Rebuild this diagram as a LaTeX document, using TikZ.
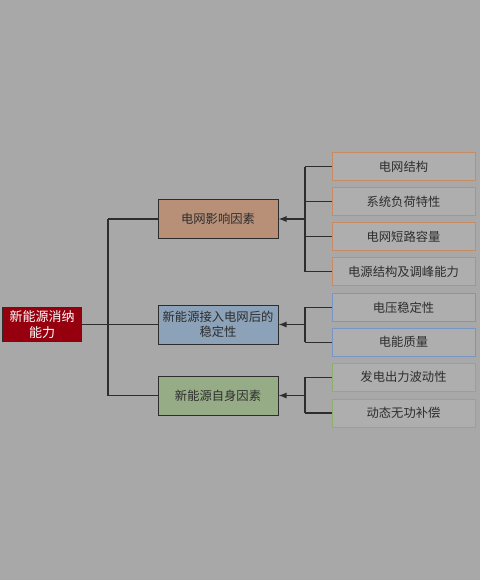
\documentclass[tikz,border=0pt]{standalone}
\usepackage{fontspec}
\setmainfont{Noto Sans CJK SC}
\usepackage{tikz}
\usetikzlibrary{arrows.meta}
\definecolor{bggray}{RGB}{168,168,168}
\definecolor{rootred}{RGB}{150,0,14}
\definecolor{brownbox}{RGB}{184,144,120}
\definecolor{bluebox}{RGB}{140,162,184}
\definecolor{greenbox}{RGB}{150,172,134}
\definecolor{brownline}{RGB}{200,140,100}
\definecolor{blueline}{RGB}{120,150,195}
\definecolor{greenline}{RGB}{140,175,110}
\definecolor{leafgray}{RGB}{174,174,174}
\definecolor{inkgray}{RGB}{45,45,45}
\tikzset{
    root/.style={draw=inkgray,fill=rootred,text=white,minimum width=79pt,minimum height=34pt,inner sep=0pt,align=center,font=\fontsize{13}{16}\selectfont},
    mid/.style={draw=inkgray,line width=1pt,minimum width=120pt,minimum height=39pt,inner sep=0pt,align=center,text=inkgray,font=\fontsize{12.3}{15}\selectfont},
    leaf/.style={draw,line width=0.8pt,fill=leafgray,minimum width=143pt,minimum height=28pt,inner sep=0pt,text=inkgray,font=\fontsize{12.3}{15}\selectfont},
    link/.style={draw=inkgray,line width=1.1pt}
}

\begin{document}
\begin{tikzpicture}[x=1pt,y=-1pt]
    \fill[bggray] (0,0) rectangle (480,580);
    \useasboundingbox (0,0) rectangle (480,580);
    % left side
    \node[root] (root) at (42,324.5) {新能源消纳\\能力};
    \coordinate (trunk) at (108,0);
    % middle boxes
    \node[mid,fill=brownbox] (grid) at (218,219) {电网影响因素};
    \node[mid,fill=bluebox] (stab) at (218,324.5) {新能源接入电网后的\\稳定性};
    \node[mid,fill=greenbox] (self) at (218,395.5) {新能源自身因素};
    % right boxes
    \node[leaf,draw=brownline] (g1) at (403.5,166.5) {电网结构};
    \node[leaf,draw=brownline] (g2) at (403.5,201.5) {系统负荷特性};
    \node[leaf,draw=brownline] (g3) at (403.5,236.7) {电网短路容量};
    \node[leaf,draw=brownline] (g4) at (403.5,271.5) {电源结构及调峰能力};
    \node[leaf,draw=blueline] (s1) at (403.5,307.3) {电压稳定性};
    \node[leaf,draw=blueline] (s2) at (403.5,342.3) {电能质量};
    \node[leaf,draw=greenline] (n1) at (403.5,377.3) {发电出力波动性};
    \node[leaf,draw=greenline] (n2) at (403.5,413) {动态无功补偿};
    \coordinate (sub) at (305,0);

    % connectors
    \draw[link] (root.east) -- (trunk |- root.east);
    \draw[link] (trunk |- grid.west) -- (trunk |- self.west);
    \foreach \m in {grid,stab,self}
        \draw[link] (trunk |- \m.west) -- (\m.west);
    \foreach \m in {grid,stab,self}
        \draw[link,-{Latex[length=8pt,width=6pt]}] (sub |- \m.east) -- (\m.east);
    \draw[link] (sub |- g1.west) -- (sub |- g4.west);
    \draw[link] (sub |- s1.west) -- (sub |- s2.west);
    \draw[link] (sub |- n1.west) -- (sub |- n2.west);
    \foreach \r in {g1,g2,g3,g4,s1,s2,n1,n2}
        \draw[link] (sub |- \r.west) -- (\r.west);
\end{tikzpicture}
\end{document}
